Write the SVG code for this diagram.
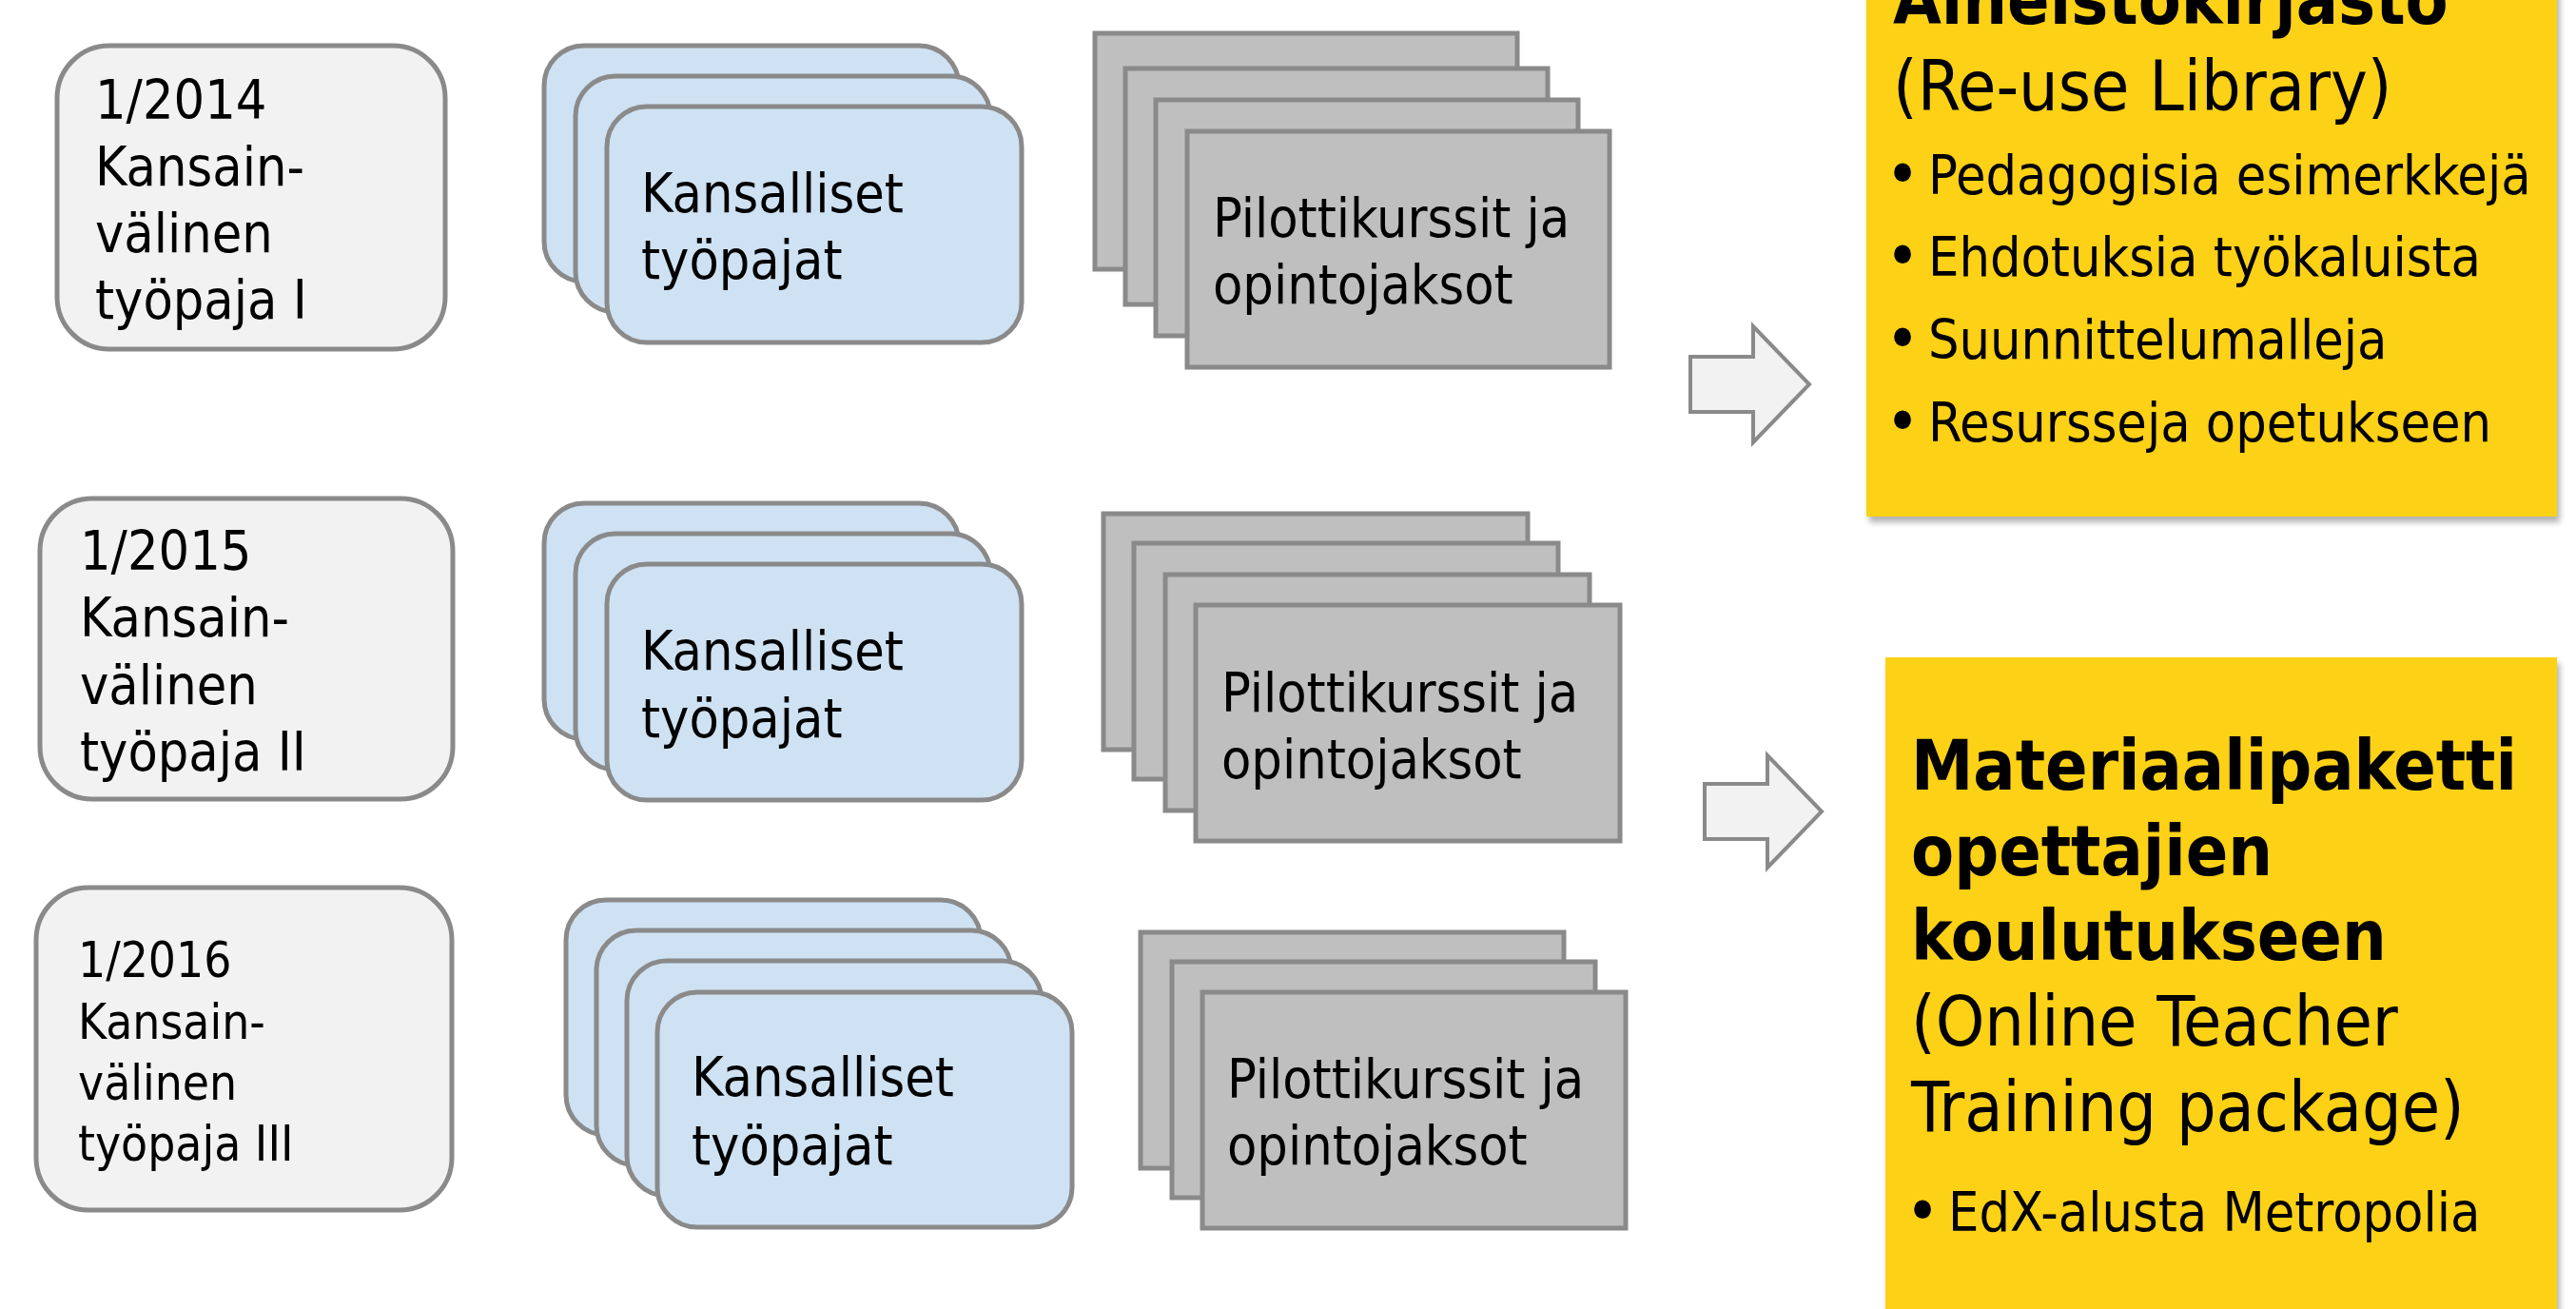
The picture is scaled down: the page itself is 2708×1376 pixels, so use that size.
<svg xmlns="http://www.w3.org/2000/svg" width="2708" height="1376" viewBox="0 0 2708 1376">
<defs>
<style>
.t{font-family:"DejaVu Sans Condensed","DejaVu Sans",sans-serif;font-stretch:condensed;fill:#000}
.f57{font-size:57px}
.f51{font-size:51px}
.f73{font-size:73px}
.bu{font-size:68px}
.b{font-weight:bold}
.yr{fill:#f2f2f2;stroke:#8a8a8a;stroke-width:5}
.bl{fill:#cfe2f3;stroke:#8a8a8a;stroke-width:5}
.gr{fill:#bfbfbf;stroke:#8a8a8a;stroke-width:5}
.ye{fill:#fcd116}
.ar{fill:#f2f2f2;stroke:#8a8a8a;stroke-width:4}
</style>
<filter id="sh" x="-5%" y="-5%" width="115%" height="115%">
<feDropShadow dx="3" dy="6" stdDeviation="3" flood-color="#000" flood-opacity="0.3"/>
</filter>
</defs>
<rect width="2708" height="1376" fill="#fff"/>

<g id="ws1">
<rect class="yr" x="60" y="48" width="408" height="319" rx="55"/>
<text class="t f57"><tspan x="100" y="125">1/2014</tspan><tspan x="100" y="195">Kansain-</tspan><tspan x="100" y="265">välinen</tspan><tspan x="100" y="335">työpaja I</tspan></text>
</g>
<g id="nat1">
<rect class="bl" x="572" y="48" width="436" height="248" rx="42"/>
<rect class="bl" x="605" y="80" width="436" height="248" rx="42"/>
<rect class="bl" x="638" y="112" width="436" height="248" rx="42"/>
<text class="t f57"><tspan x="674" y="223">Kansalliset</tspan><tspan x="674" y="293">työpajat</tspan></text>
</g>
<g id="pil1">
<rect class="gr" x="1151" y="35" width="444" height="248"/>
<rect class="gr" x="1183" y="72" width="444" height="248"/>
<rect class="gr" x="1215" y="105" width="444" height="248"/>
<rect class="gr" x="1248" y="138" width="444" height="248"/>
<text class="t f57"><tspan x="1275" y="249">Pilottikurssit ja</tspan><tspan x="1275" y="319">opintojaksot</tspan></text>
</g>

<g id="ws2">
<rect class="yr" x="42" y="524" width="434" height="316" rx="55"/>
<text class="t f57"><tspan x="84" y="599">1/2015</tspan><tspan x="84" y="669">Kansain-</tspan><tspan x="84" y="740">välinen</tspan><tspan x="84" y="810">työpaja II</tspan></text>
</g>
<g id="nat2">
<rect class="bl" x="572" y="529" width="436" height="248" rx="42"/>
<rect class="bl" x="605" y="561" width="436" height="248" rx="42"/>
<rect class="bl" x="638" y="593" width="436" height="248" rx="42"/>
<text class="t f57"><tspan x="674" y="704">Kansalliset</tspan><tspan x="674" y="775">työpajat</tspan></text>
</g>
<g id="pil2">
<rect class="gr" x="1160" y="540" width="446" height="248"/>
<rect class="gr" x="1192" y="571" width="446" height="248"/>
<rect class="gr" x="1225" y="604" width="446" height="248"/>
<rect class="gr" x="1257" y="636" width="446" height="248"/>
<text class="t f57"><tspan x="1284" y="748">Pilottikurssit ja</tspan><tspan x="1284" y="818">opintojaksot</tspan></text>
</g>

<g id="ws3">
<rect class="yr" x="38" y="933" width="437" height="339" rx="55"/>
<text class="t f51"><tspan x="82" y="1027">1/2016</tspan><tspan x="82" y="1092">Kansain-</tspan><tspan x="82" y="1156">välinen</tspan><tspan x="82" y="1220">työpaja III</tspan></text>
</g>
<g id="nat3">
<rect class="bl" x="595" y="946" width="436" height="247" rx="42"/>
<rect class="bl" x="627" y="978" width="436" height="247" rx="42"/>
<rect class="bl" x="659" y="1010" width="436" height="247" rx="42"/>
<rect class="bl" x="691" y="1043" width="436" height="247" rx="42"/>
<text class="t f57"><tspan x="727" y="1152">Kansalliset</tspan><tspan x="727" y="1224">työpajat</tspan></text>
</g>
<g id="pil3">
<rect class="gr" x="1199" y="980" width="445" height="248"/>
<rect class="gr" x="1232" y="1011" width="445" height="248"/>
<rect class="gr" x="1264" y="1043" width="445" height="248"/>
<text class="t f57"><tspan x="1290" y="1154">Pilottikurssit ja</tspan><tspan x="1290" y="1224">opintojaksot</tspan></text>
</g>

<g id="connectors">
<polygon class="ar" points="1777,375 1843,375 1843,343 1902,404 1843,465 1843,433 1777,433"/>
<polygon class="ar" points="1792,824 1858,824 1858,794 1915,853 1858,912 1858,882 1792,882"/>
</g>

<g id="library">
<rect class="ye" x="1962" y="-60" width="726" height="603" filter="url(#sh)"/>
<text class="t f73 b" x="1990" y="25">Aineistokirjasto</text>
<text class="t f73" x="1990" y="116">(Re-use Library)</text>
<text class="t"><tspan class="bu" x="1982" y="206">•</tspan><tspan class="f57" x="2027" y="204">Pedagogisia esimerkkejä</tspan></text>
<text class="t"><tspan class="bu" x="1982" y="292">•</tspan><tspan class="f57" x="2027" y="290">Ehdotuksia työkaluista</tspan></text>
<text class="t"><tspan class="bu" x="1982" y="379">•</tspan><tspan class="f57" x="2027" y="377">Suunnittelumalleja</tspan></text>
<text class="t"><tspan class="bu" x="1982" y="466">•</tspan><tspan class="f57" x="2027" y="464">Resursseja opetukseen</tspan></text>
</g>

<g id="package">
<rect class="ye" x="1982" y="691" width="706" height="720" filter="url(#sh)"/>
<text class="t f73 b"><tspan x="2009" y="830">Materiaalipaketti</tspan><tspan x="2009" y="920">opettajien</tspan><tspan x="2009" y="1009">koulutukseen</tspan></text>
<text class="t f73"><tspan x="2009" y="1099">(Online Teacher</tspan><tspan x="2009" y="1189">Training package)</tspan></text>
<text class="t"><tspan class="bu" x="2003" y="1296">•</tspan><tspan class="f57" x="2048" y="1294">EdX-alusta Metropolia</tspan></text>
</g>
</svg>
